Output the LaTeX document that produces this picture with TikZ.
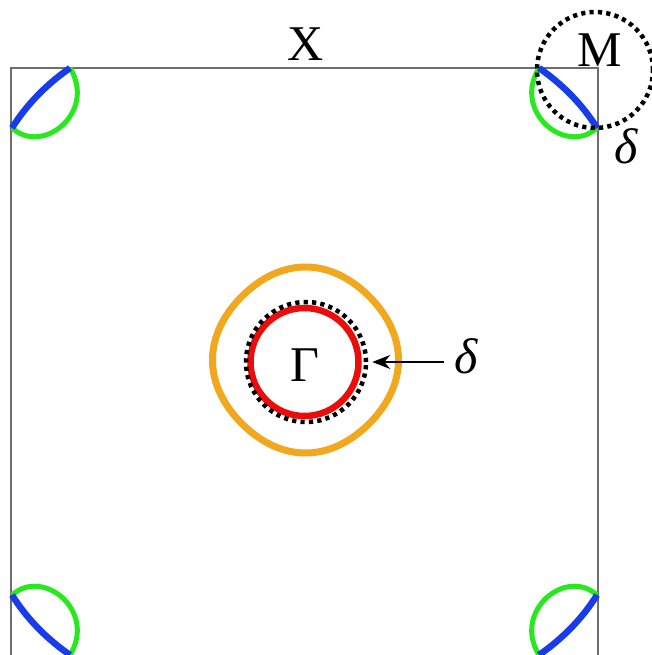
\documentclass[tikz,border=0pt]{standalone}
\usepackage{fontspec}
\setmainfont{Liberation Serif}
\usetikzlibrary{
    arrows.meta
}
\definecolor{bandorange}{RGB}{242,168,30}
\definecolor{bandred}{RGB}{235,12,12}
\definecolor{bandblue}{RGB}{25,60,235}
\definecolor{bandgreen}{RGB}{40,232,30}
\definecolor{zoneedge}{RGB}{110,110,110}
\tikzstyle{zone}=[
    draw=zoneedge,
    line width=1.6pt
]
\tikzstyle{gapring}=[
    circle,
    draw=black,
    line width=4.5pt,
    dash pattern=on 4.2pt off 4.2pt,
    inner sep=0pt
]
\tikzstyle{band}=[line width=6.5pt]
\tikzstyle{symlabel}=[font=\fontsize{50}{50}\selectfont,inner sep=0pt]
\tikzstyle{arrow}=[line width=1.3pt,-{Stealth[length=18pt,width=14pt]}]

\begin{document}
\begin{tikzpicture}[x=1pt,y=-1pt]
\useasboundingbox (0,0) rectangle (651,655);
\draw[zone] (11,655) -- (11,68) -- (598,68) -- (598,655);

% pockets at the zone corners
\foreach \cx/\cy/\sx/\sy in {11/68/1/1,598/68/-1/1,11/655/1/-1,598/655/-1/-1}{
  \begin{scope}[shift={(\cx,\cy)},xscale=\sx,yscale=\sy]
    \draw[band,bandgreen,line width=5pt] (1,60) .. controls (32,88) and (86,44) .. (59,0);
    \draw[band,bandblue] (1,60) .. controls (16,36) and (36,16) .. (59,0);
  \end{scope}
}

% pockets at the centre
\draw[band,bandorange,line width=7pt] plot[domain=0:360,samples=91,smooth]
    ({305.5+(91.5+1.5*cos(4*\x))*cos(\x)},{360+(91.5+1.5*cos(4*\x))*sin(\x)});
\draw[band,bandred] (304.5,362) circle[radius=54];
\node[gapring,minimum size=120pt] (gapG) at (306,362) {};
\node[gapring,minimum size=116pt] (gapM) at (595,70) {};

\node[symlabel] (gamma) at (305,365) {Γ};
\node[symlabel] (xpt) at (306,44) {X};
\node[symlabel] (mpt) at (600,50) {M};
\node[symlabel,font=\fontsize{50}{50}\selectfont\itshape] (deltaG) at (466,356) {δ};
\node[symlabel,font=\fontsize{50}{50}\selectfont\itshape] (deltaM) at (626,146) {δ};

\draw[arrow,shorten <=10pt,shorten >=4pt] (deltaG.west |- gapG.east) -- (gapG.east);
\end{tikzpicture}
\end{document}
